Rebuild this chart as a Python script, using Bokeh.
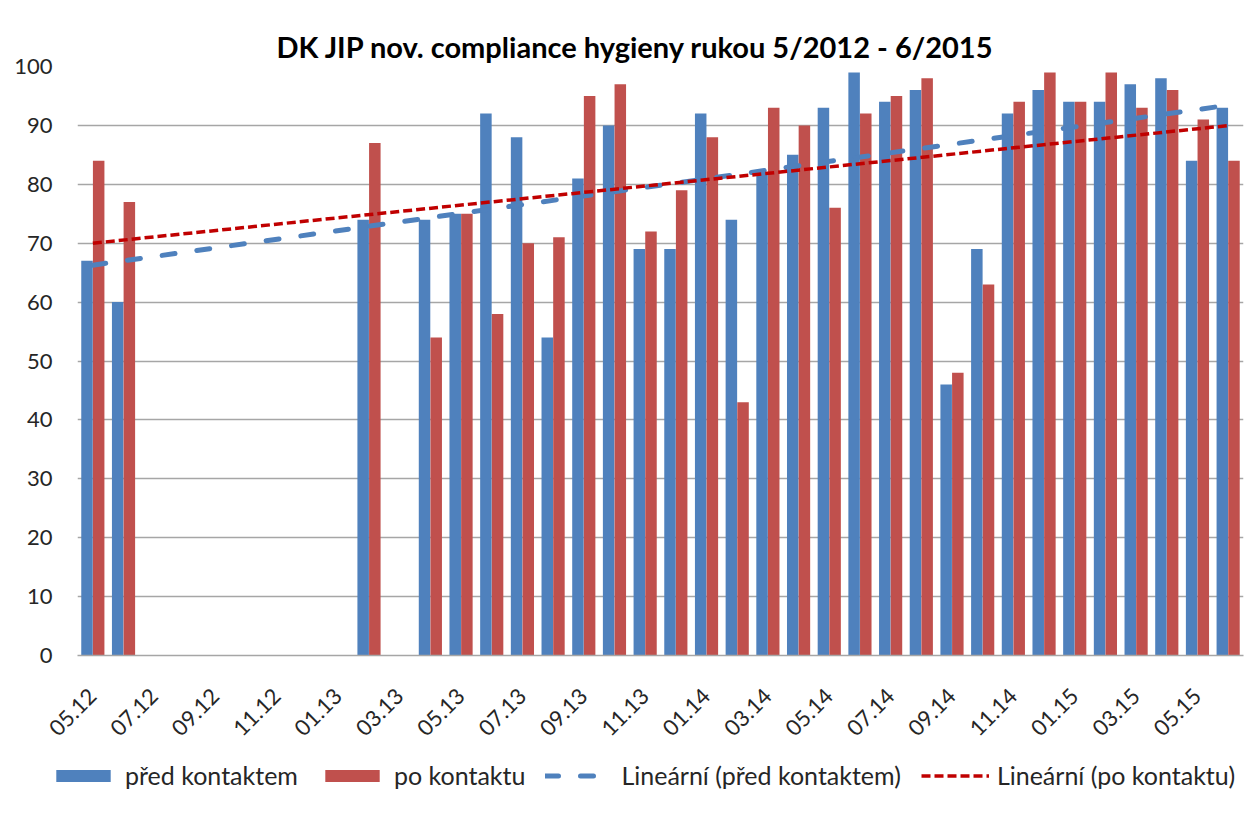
import math
import numpy as np
from bokeh.plotting import figure
from bokeh.layouts import column
from bokeh.models import ColumnDataSource, FixedTicker, Range1d, Legend, LegendItem
from bokeh.transform import dodge
from bokeh.embed import file_html
from bokeh.resources import INLINE

months = ["05.12", "06.12", "07.12", "08.12", "09.12", "10.12", "11.12", "12.12",
          "01.13", "02.13", "03.13", "04.13", "05.13", "06.13", "07.13", "08.13",
          "09.13", "10.13", "11.13", "12.13", "01.14", "02.14", "03.14", "04.14",
          "05.14", "06.14", "07.14", "08.14", "09.14", "10.14", "11.14", "12.14",
          "01.15", "02.15", "03.15", "04.15", "05.15", "06.15"]

pred_kontaktem = [67, 60, None, None, None, None, None, None, None, 74, None,
                  74, 75, 92, 88, 54, 81, 90, 69, 69, 92, 74, 82, 85, 93, 99,
                  94, 96, 46, 69, 92, 96, 94, 94, 97, 98, 84, 93]
po_kontaktu = [84, 77, None, None, None, None, None, None, None, 87, None,
               54, 75, 58, 70, 71, 95, 97, 72, 79, 88, 43, 93, 90, 76, 92,
               95, 98, 48, 63, 94, 99, 94, 99, 93, 96, 91, 84]

y_ticks = [0, 10, 20, 30, 40, 50, 60, 70, 80, 90, 100]

title = "DK JIP nov. compliance hygieny rukou 5/2012 - 6/2015"
series_names = ["před kontaktem", "po kontaktu",
                "Lineární (před kontaktem)", "Lineární (po kontaktu)"]

BLUE = "#4F81BD"
RED = "#C0504D"
TREND_BLUE = "#4F81BD"
TREND_RED = "#C00000"
FONT = "Lato"
TXT = "#262626"

idx = np.arange(len(months), dtype=float)
pred_arr = np.array([np.nan if v is None else v for v in pred_kontaktem], dtype=float)
po_arr = np.array([np.nan if v is None else v for v in po_kontaktu], dtype=float)

src = ColumnDataSource(dict(x=idx, pred=pred_arr, po=po_arr))


def trend(vals):
    m = ~np.isnan(vals)
    k, q = np.polyfit(idx[m], vals[m], 1)
    xs = np.array([idx[0], idx[-1]])
    return xs, k * xs + q


W = 1247
p = figure(width=W, height=745, output_backend="svg", toolbar_location=None,
           x_range=Range1d(-0.5, len(months) - 0.5), y_range=Range1d(0, 100),
           min_border_left=77, min_border_right=4, min_border_top=66,
           min_border_bottom=90)
p.frame_align = False
p.outline_line_color = None
p.background_fill_color = "white"
p.border_fill_color = "white"

p.title.text = title
p.title.align = "left"
p.title.text_font = FONT
p.title.text_font_style = "bold"
p.title.text_font_size = "29px"
p.title.text_color = "black"
p.title.offset = 199
p.title.standoff = 6

w = 0.375
bar_kw_b = dict(fill_color=BLUE, line_color=None)
bar_kw_r = dict(fill_color=RED, line_color=None)
line_kw_b = dict(line_color=TREND_BLUE, line_width=5, line_dash="13 22", line_cap="round")
line_kw_r = dict(line_color=TREND_RED, line_width=3.5, line_dash="9 4")

p.vbar(x=dodge("x", -0.19), top="pred", width=w, source=src, **bar_kw_b)
p.vbar(x=dodge("x", 0.19), top="po", width=w, source=src, **bar_kw_r)

bx, by = trend(pred_arr)
rx, ry = trend(po_arr)
p.line(bx, by, **line_kw_b)
p.line(rx, ry, **line_kw_r)

# axes
p.xaxis.ticker = FixedTicker(ticks=list(range(0, len(months), 2)))
p.xaxis.major_label_overrides = {i: months[i] for i in range(0, len(months), 2)}
p.xaxis.major_label_orientation = math.pi / 4
p.xaxis.major_label_text_font = FONT
p.xaxis.major_label_text_font_size = "22px"
p.xaxis.major_label_text_color = TXT
p.xaxis.major_tick_line_color = None
p.xaxis.minor_tick_line_color = None
p.xaxis.axis_line_color = "#A6A6A6"
p.xaxis.axis_line_width = 1.5
p.xaxis.major_label_standoff = 31

p.yaxis.ticker = FixedTicker(ticks=y_ticks)
p.yaxis.major_label_text_font = FONT
p.yaxis.major_label_text_font_size = "22px"
p.yaxis.major_label_text_color = TXT
p.yaxis.major_tick_line_color = None
p.yaxis.minor_tick_line_color = None
p.yaxis.axis_line_color = None
p.yaxis.major_label_standoff = 19

p.xgrid.grid_line_color = None
p.ygrid.grid_line_color = "#A6A6A6"
p.ygrid.grid_line_width = 1.5

# legend strip below the chart (its renderers hold points outside the view)
lf = figure(width=W, height=68, output_backend="svg", toolbar_location=None,
            x_range=Range1d(0, 1), y_range=Range1d(0, 1),
            x_axis_type=None, y_axis_type=None,
            min_border_left=0, min_border_right=0, min_border_top=0,
            min_border_bottom=0)
lf.frame_align = False
lf.outline_line_color = None
lf.grid.visible = False
lf.border_fill_color = "white"
hidden = ColumnDataSource(dict(x=[-10, -11], top=[-10, -10], y=[-10, -10]))
l1 = lf.vbar(x="x", top="top", width=0.1, source=hidden, **bar_kw_b)
l2 = lf.vbar(x="x", top="top", width=0.1, source=hidden, **bar_kw_r)
l3 = lf.line(x="x", y="y", source=hidden, **line_kw_b)
l4 = lf.line(x="x", y="y", source=hidden, **line_kw_r)

legend = Legend(items=[LegendItem(label=series_names[0], renderers=[l1]),
                       LegendItem(label=series_names[1], renderers=[l2]),
                       LegendItem(label=series_names[2], renderers=[l3]),
                       LegendItem(label=series_names[3], renderers=[l4])],
                orientation="horizontal", location=(49, 23))
legend.label_text_font = FONT
legend.label_text_font_size = "25px"
legend.label_text_color = TXT
legend.glyph_width = 68
legend.glyph_height = 15
legend.label_standoff = 8
legend.spacing = 20
legend.padding = 0
legend.margin = 0
legend.border_line_color = None
legend.background_fill_alpha = 0
lf.add_layout(legend, "center")

layout = column(p, lf, spacing=0)
open("out.html", "w").write(file_html(layout, INLINE))
